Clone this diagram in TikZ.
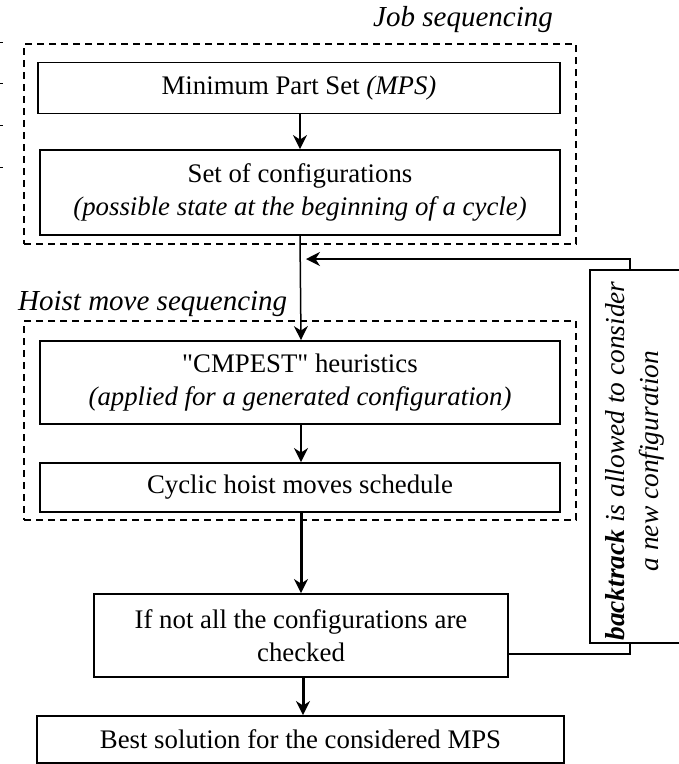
\documentclass[tikz,border=0pt]{standalone}
\usepackage{fontspec}
\setmainfont{Liberation Serif}
\usetikzlibrary{arrows.meta}
% straight double quote, kept out of the TeX ligature mapping
\newcommand\straightquote{\XeTeXglyph\XeTeXcharglyph"22\relax}
\begin{document}
\begin{tikzpicture}[x=1pt, y=-1pt,
  box/.style={draw, line width=1.9pt, inner sep=0pt, align=center,
    font=\fontsize{26.8}{33}\selectfont},
  group/.style={draw, line width=1.4pt, dash pattern=on 7pt off 5pt},
  grouplabel/.style={inner sep=0pt, font=\fontsize{29}{33}\selectfont\itshape},
  flow/.style={-{Stealth[length=14pt, width=14pt, inset=4.5pt]}, line width=1.5pt},
  flowmid/.style={flow, line width=2.3pt},
  flowbold/.style={flow, line width=3pt},
  link/.style={line width=1.5pt}
]
\useasboundingbox (0,0) rectangle (679,764);

% small tick marks along the left edge
\foreach \ty [count=\i] in {42,83,125,167}
  \draw[line width=1pt] (0,\ty) -- (2.5,\ty) coordinate (tick\i);

% dashed groups and their titles
\node[group, minimum width=552pt, minimum height=200pt] (jobgrp) at (300,144) {};
\node[grouplabel, anchor=base east] (joblbl) at (553,26) {Job sequencing};
\node[group, minimum width=552pt, minimum height=199pt] (hoistgrp) at (300,420.5) {};
\node[grouplabel, anchor=base west] (hoistlbl) at (18,310) {Hoist move sequencing};

% process boxes
\node[box, minimum width=522pt, minimum height=51pt] (mps) at (299,88)
  {Minimum Part Set \textit{(MPS)}};
\node[box, minimum width=520pt, minimum height=85pt] (cfg) at (300,192.5)
  {Set of configurations\\ \textit{(possible state at the beginning of a cycle)}};
\node[box, minimum width=520pt, minimum height=83pt] (cmpest) at (300,382.5)
  {\straightquote CMPEST\straightquote{} heuristics\\ \textit{(applied for a generated configuration)}};
\node[box, minimum width=520pt, minimum height=49pt] (cyc) at (300,487.5)
  {Cyclic hoist moves schedule};
\node[box, minimum width=414pt, minimum height=83pt] (ifnot) at (301,635.5)
  {If not all the configurations are\\ checked};
\node[box, minimum width=527pt, minimum height=47pt] (best) at (300.5,739.5)
  {Best solution for the considered MPS};

% backtrack box with its vertical text
\node[box, minimum width=93pt, minimum height=373pt] (bt) at (636.5,456.5) {};
\node[rotate=90, align=center, inner sep=0pt,
  font=\fontsize{27.4}{34}\selectfont\itshape] (bttext) at (635,461)
  {\textbf{backtrack} is allowed to consider\\ a new configuration};

% main flow
\draw[flow] (mps.south -| 300,0) -- (cfg.north -| 300,0);
\draw[flow] (cfg.south -| 300,0) -- (cmpest.north -| 301,0);
\draw[flowmid] (cmpest.south -| 301,0) -- (cyc.north -| 301,0);
\draw[flowbold] (cyc.south -| 301,0) -- (ifnot.north -| 301,0);
\draw[flowbold] (ifnot.south -| 303,0) -- (best.north -| 303,0);

% backtrack loop
\coordinate (btin) at (306,259);
\draw[flow] ([xshift=-6.5pt]bt.north) |- (btin);
\draw[link] ([xshift=-6.5pt]bt.south) |- ([yshift=-18.5pt]ifnot.east);
\end{tikzpicture}
\end{document}
